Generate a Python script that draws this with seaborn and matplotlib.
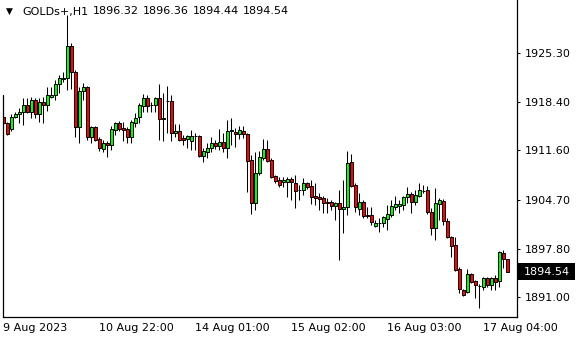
import matplotlib
matplotlib.use("Agg")
import matplotlib.pyplot as plt
import seaborn as sns
import numpy as np
from matplotlib.patches import Rectangle

# ---------------- data ----------------
opens = [
    1916.30, 1915.45, 1914.61, 1916.30, 1916.72, 1917.00, 1917.99, 1917.00, 1918.69, 1916.72,
    1918.41, 1917.99, 1919.11, 1919.39, 1920.94, 1921.64, 1921.78, 1926.28, 1922.63, 1914.89,
    1919.96, 1920.52, 1913.49, 1914.89, 1913.21, 1911.80, 1912.64, 1912.36, 1914.47, 1915.45,
    1914.75, 1914.61, 1913.49, 1915.45, 1916.30, 1917.85, 1918.97, 1917.99, 1917.99, 1918.97,
    1916.16, 1918.55, 1918.55, 1914.05, 1914.33, 1913.35, 1913.21, 1912.93, 1913.63, 1913.63,
    1910.82, 1911.38, 1911.94, 1912.64, 1912.22, 1912.78, 1911.94, 1914.33, 1914.19, 1913.91,
    1914.33, 1913.91, 1910.25, 1904.21, 1908.43, 1910.54, 1911.80, 1910.25, 1908.00, 1907.44,
    1907.16, 1907.16, 1907.58, 1907.02, 1906.04, 1906.04, 1907.02, 1906.60, 1905.19, 1905.05,
    1904.91, 1904.35, 1904.35, 1903.79, 1904.21, 1903.36, 1903.64, 1909.97, 1906.74, 1903.36,
    1904.35, 1902.52, 1902.52, 1900.97, 1901.40, 1901.40, 1901.96, 1902.52, 1903.64, 1903.79,
    1903.93, 1905.05, 1905.47, 1904.35, 1905.19, 1905.90, 1906.04, 1902.94, 1900.69, 1904.07,
    1904.49, 1901.68, 1899.43, 1898.30, 1894.93, 1891.98, 1891.70, 1894.23, 1893.24, 1892.54,
    1892.40, 1893.66, 1892.68, 1893.66, 1893.24, 1897.18, 1896.32]

highs = [
    1917.00, 1915.60, 1916.72, 1917.00, 1917.56, 1918.97, 1918.97, 1919.11, 1918.97, 1918.97,
    1919.11, 1920.52, 1920.52, 1921.50, 1922.20, 1922.63, 1930.64, 1926.70, 1922.91, 1920.52,
    1921.08, 1920.66, 1915.03, 1915.03, 1913.49, 1913.07, 1912.93, 1915.03, 1915.60, 1915.74,
    1915.60, 1914.89, 1915.88, 1916.86, 1918.27, 1919.53, 1919.39, 1918.41, 1919.11, 1920.94,
    1919.67, 1920.66, 1919.39, 1915.31, 1915.31, 1913.77, 1913.77, 1914.47, 1914.05, 1913.77,
    1911.94, 1912.64, 1913.49, 1913.07, 1914.61, 1914.05, 1915.88, 1916.16, 1914.75, 1915.03,
    1915.03, 1914.05, 1910.96, 1911.38, 1911.52, 1913.21, 1913.07, 1910.54, 1908.15, 1907.86,
    1907.86, 1907.86, 1907.86, 1908.15, 1906.74, 1907.72, 1907.16, 1907.44, 1907.02, 1905.61,
    1905.19, 1904.91, 1904.63, 1904.35, 1906.04, 1907.44, 1911.52, 1911.10, 1907.02, 1905.61,
    1904.63, 1903.64, 1903.64, 1901.82, 1902.10, 1902.38, 1903.93, 1904.63, 1905.19, 1904.63,
    1905.19, 1906.46, 1905.76, 1906.04, 1907.02, 1906.74, 1906.60, 1903.50, 1906.32, 1904.91,
    1904.77, 1902.10, 1899.57, 1899.43, 1895.21, 1892.12, 1894.93, 1894.37, 1893.38, 1892.82,
    1893.80, 1893.80, 1893.80, 1894.09, 1897.46, 1897.60, 1896.36]

lows = [
    1915.17, 1913.77, 1914.33, 1916.16, 1915.45, 1915.17, 1916.86, 1916.16, 1916.16, 1915.60,
    1915.45, 1917.14, 1918.97, 1918.69, 1919.67, 1921.22, 1920.10, 1920.24, 1913.49, 1912.64,
    1918.69, 1913.07, 1912.64, 1912.93, 1911.52, 1911.38, 1910.68, 1911.66, 1913.77, 1914.33,
    1912.93, 1912.64, 1912.64, 1914.89, 1915.45, 1917.00, 1917.00, 1917.00, 1917.00, 1913.07,
    1912.93, 1914.05, 1912.93, 1913.49, 1912.93, 1912.36, 1911.94, 1911.66, 1911.66, 1910.68,
    1909.97, 1910.54, 1911.38, 1911.80, 1911.66, 1911.38, 1910.54, 1912.36, 1912.08, 1913.21,
    1913.35, 1905.76, 1902.66, 1903.22, 1908.15, 1910.25, 1909.97, 1907.72, 1907.02, 1906.46,
    1906.46, 1905.05, 1904.63, 1903.50, 1904.63, 1905.33, 1906.18, 1904.07, 1903.93, 1903.22,
    1902.80, 1902.80, 1903.22, 1901.82, 1896.19, 1900.00, 1902.52, 1906.46, 1902.94, 1902.52,
    1902.10, 1902.10, 1901.12, 1900.83, 1900.13, 1900.83, 1900.41, 1902.24, 1903.22, 1902.80,
    1903.22, 1904.21, 1902.80, 1903.93, 1905.05, 1905.61, 1902.66, 1899.71, 1899.01, 1901.82,
    1901.12, 1899.29, 1896.62, 1894.65, 1891.56, 1891.14, 1891.56, 1892.96, 1890.85, 1889.45,
    1891.98, 1892.40, 1891.98, 1891.98, 1892.40, 1895.07, 1894.44]

closes = [
    1915.45, 1913.91, 1916.30, 1916.72, 1917.00, 1917.99, 1917.00, 1918.69, 1916.72, 1918.41,
    1917.99, 1919.39, 1919.39, 1920.94, 1921.78, 1921.78, 1926.28, 1922.63, 1914.89, 1919.96,
    1920.52, 1913.49, 1914.89, 1913.07, 1911.94, 1912.64, 1912.36, 1914.61, 1915.45, 1914.61,
    1914.47, 1913.49, 1915.60, 1916.16, 1917.99, 1918.97, 1917.85, 1917.92, 1918.97, 1916.02,
    1916.02, 1918.48, 1914.05, 1914.33, 1913.07, 1913.07, 1913.63, 1913.63, 1913.56, 1910.82,
    1911.52, 1911.94, 1912.64, 1912.22, 1912.78, 1911.94, 1914.33, 1914.47, 1913.91, 1914.47,
    1913.91, 1910.11, 1904.21, 1908.43, 1910.68, 1911.80, 1910.11, 1907.86, 1907.30, 1906.74,
    1907.44, 1907.58, 1907.16, 1905.90, 1905.97, 1907.02, 1906.46, 1905.05, 1904.91, 1904.77,
    1904.21, 1904.21, 1903.79, 1904.21, 1903.36, 1903.64, 1909.83, 1906.60, 1903.64, 1904.35,
    1902.38, 1902.45, 1901.54, 1901.40, 1901.45, 1902.24, 1902.66, 1903.79, 1904.07, 1904.07,
    1905.05, 1905.47, 1904.35, 1905.33, 1906.04, 1905.95, 1902.94, 1900.69, 1904.21, 1904.63,
    1901.68, 1899.43, 1898.16, 1894.79, 1892.12, 1891.28, 1894.23, 1893.10, 1892.68, 1892.60,
    1893.66, 1892.68, 1893.66, 1893.10, 1897.32, 1896.33, 1894.54]

time_tick_bars = [0, 24, 48, 72, 96, 120]
time_tick_labels = ["9 Aug 2023", "10 Aug 22:00", "14 Aug 01:00",
                    "15 Aug 02:00", "16 Aug 03:00", "17 Aug 04:00"]
price_ticks = [1925.30, 1918.40, 1911.60, 1904.70, 1897.80, 1891.00]
symbol = "GOLDs+,H1"
last_ohlc = [1896.32, 1896.36, 1894.44, 1894.54]

# ---------------- style ----------------
sns.set_theme(style="white")
plt.rcParams["font.family"] = ["DejaVu Sans"]
FS = 8

W, H = 580, 340
fig = plt.figure(figsize=(W / 100, H / 100), dpi=100)
left_px, right_px, top_px, bot_px = 2.5, 517.0, 0.0, 316.5
ax = fig.add_axes([left_px / W, (H - bot_px) / H,
                   (right_px - left_px) / W, (bot_px - top_px) / H])
ax.set_facecolor("white")

x = np.arange(len(opens))
o = np.array(opens); c = np.array(closes)
hi = np.array(highs); lo = np.array(lows)
bull = c >= o
fill = np.where(bull, "#00ff00", "#ff0000")

ax.vlines(x, lo, hi, color="black", linewidth=0.75, zorder=2)
ax.bar(x, np.abs(c - o), bottom=np.minimum(o, c), width=0.62,
       color=fill, edgecolor="black", linewidth=0.7, zorder=3)

ax.set_xlim(-0.2, 128.4)
ax.set_ylim(1888.25, 1932.75)

for s in ["top", "left"]:
    ax.spines[s].set_visible(False)
for s in ["right", "bottom"]:
    ax.spines[s].set_visible(True)
    ax.spines[s].set_color("black")
    ax.spines[s].set_linewidth(0.9)

ax.yaxis.tick_right()
ax.set_yticks(price_ticks)
ax.set_yticklabels([f"{v:.2f}" for v in price_ticks])
ax.tick_params(axis="y", which="both", direction="out", length=2.5, width=0.75,
               pad=3, labelsize=FS, colors="black", left=False, right=True)
ax.set_xticks(time_tick_bars)
ax.set_xticklabels(time_tick_labels, ha="left")
ax.tick_params(axis="x", direction="out", length=3.5, width=0.75, pad=1.5,
               labelsize=FS, colors="black")
for lab in ax.get_xticklabels():
    lab.set_horizontalalignment("left")
ax.grid(False)

# left frame line
fig.add_artist(plt.Line2D([2.5 / W, 2.5 / W], [(H - bot_px) / H, (H - 95) / H],
                          color="black", linewidth=0.9))

# last price box
ax.add_patch(Rectangle((1.002, last_ohlc[3] - 1.2), 0.111, 2.4,
                       transform=ax.get_yaxis_transform(), clip_on=False,
                       facecolor="black", edgecolor="none", zorder=5))
ax.text(1.0 + 7 / (right_px - left_px), last_ohlc[3], f"{last_ohlc[3]:.2f}",
        transform=ax.get_yaxis_transform(), color="white", fontsize=FS,
        va="center", ha="left", zorder=6, clip_on=False)

# header
fig.text(6 / W, 1 - 11.5 / H, "▼", fontsize=6.5, va="center", ha="left", color="black")
fig.text(22 / W, 1 - 11.5 / H, symbol, fontsize=FS, va="center", ha="left", color="black")
for i, v in enumerate(last_ohlc):
    fig.text((92.5 + 50 * i) / W, 1 - 11.5 / H, f"{v:.2f}", fontsize=FS,
             va="center", ha="left", color="black")

fig.savefig("out.png", dpi=100, facecolor="white")
